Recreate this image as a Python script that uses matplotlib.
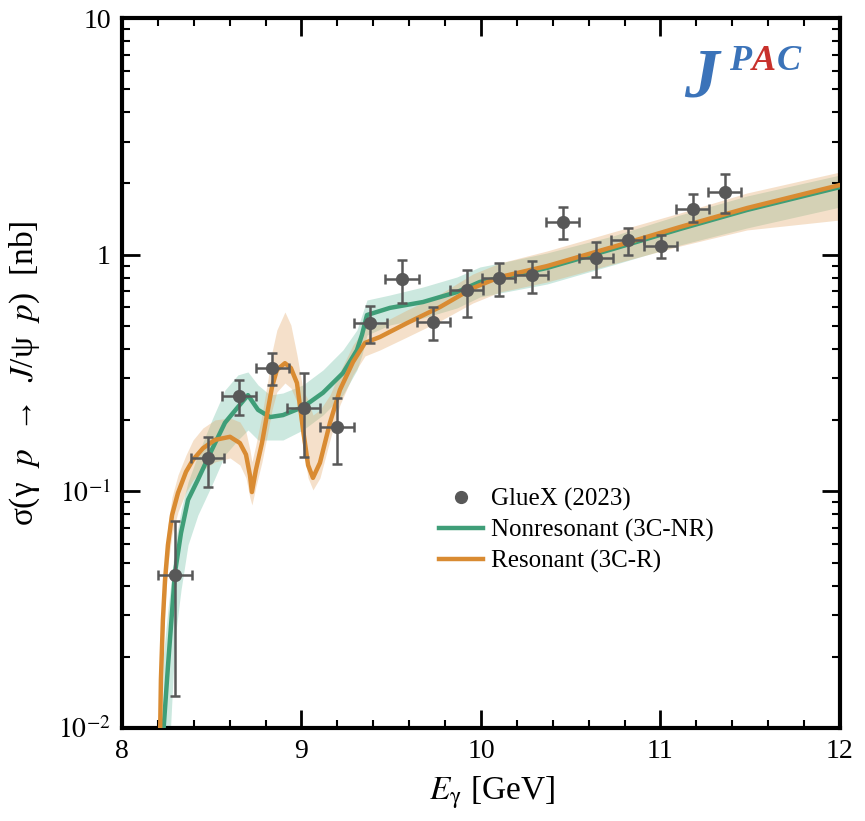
import numpy as np
import matplotlib
matplotlib.use('Agg')
import matplotlib.pyplot as plt
from matplotlib.lines import Line2D

plt.rcParams['font.family'] = ['Liberation Serif', 'DejaVu Serif']
plt.rcParams['mathtext.fontset'] = 'stix'

# GlueX (2023) data
e_data = [8.295, 8.479, 8.652, 8.836, 9.014, 9.198, 9.382, 9.560, 9.733,
          9.922, 10.100, 10.284, 10.457, 10.641, 10.819, 11.003, 11.181, 11.359]
sig_data = [0.0443, 0.138, 0.253, 0.332, 0.225, 0.187, 0.514, 0.789, 0.520,
            0.710, 0.798, 0.820, 1.375, 0.968, 1.154, 1.089, 1.56, 1.84]
sig_hi = [0.0752, 0.170, 0.296, 0.385, 0.316, 0.248, 0.607, 0.95, 0.601,
          0.861, 0.922, 0.94, 1.59, 1.13, 1.30, 1.21, 1.80, 2.19]
sig_lo = [0.0137, 0.104, 0.210, 0.282, 0.140, 0.131, 0.424, 0.625, 0.437,
          0.546, 0.670, 0.689, 1.16, 0.805, 0.997, 0.968, 1.375, 1.50]
e_err = [0.095, 0.092, 0.092, 0.092, 0.092, 0.092, 0.092, 0.095, 0.092,
         0.092, 0.092, 0.092, 0.092, 0.092, 0.092, 0.092, 0.092, 0.092]

# Nonresonant (3C-NR) curve and band
e_nr = [8.228, 8.256, 8.284, 8.295, 8.329, 8.368, 8.423, 8.501, 8.574, 8.646,
        8.702, 8.758, 8.825, 8.897, 9.008, 9.120, 9.231, 9.309, 9.337, 9.365,
        9.493, 9.677, 9.866, 9.994, 10.106, 10.368, 10.735, 11.109, 11.482, 12.0]
sig_nr = [0.0090, 0.0181, 0.0348, 0.0452, 0.0667, 0.0920, 0.112, 0.150, 0.195, 0.227,
          0.255, 0.221, 0.206, 0.210, 0.227, 0.261, 0.316, 0.395, 0.458, 0.556,
          0.596, 0.631, 0.695, 0.767, 0.797, 0.879, 1.057, 1.284, 1.545, 1.93]
nr_lo = [0.005, 0.006, 0.0160, 0.0236, 0.0383, 0.0594, 0.0794, 0.1064, 0.1426, 0.1648,
         0.1817, 0.1648, 0.1648, 0.1648, 0.1817, 0.2102, 0.2554, 0.3258, 0.3769, 0.4577,
         0.5047, 0.5402, 0.5954, 0.6627, 0.6890, 0.7518, 0.9048, 1.099, 1.297, 1.590]
nr_hi = [0.0194, 0.0316, 0.0489, 0.0594, 0.0834, 0.1096, 0.1426, 0.2004, 0.268, 0.3105,
         0.3195, 0.2815, 0.2554, 0.2604, 0.2815, 0.3258, 0.3957, 0.4807, 0.5561, 0.6434,
         0.6757, 0.7303, 0.8049, 0.8872, 0.9224, 1.017, 1.200, 1.472, 1.770, 2.171]

# Resonant (3C-R) curve and band
e_r = [8.212, 8.217, 8.228, 8.240, 8.256, 8.279, 8.312, 8.357, 8.396, 8.451,
       8.518, 8.602, 8.657, 8.691, 8.713, 8.724, 8.746, 8.780, 8.813, 8.836,
       8.863, 8.908, 8.941, 8.975, 9.009, 9.037, 9.064, 9.103, 9.159, 9.214,
       9.287, 9.354, 9.437, 9.588, 9.772, 9.955, 10.106, 10.368, 10.735, 11.109,
       11.482, 12.0]
sig_r = [0.0090, 0.0160, 0.0286, 0.0423, 0.0593, 0.0794, 0.0984, 0.121, 0.136, 0.152,
         0.165, 0.170, 0.160, 0.143, 0.117, 0.0993, 0.123, 0.160, 0.221, 0.276,
         0.326, 0.348, 0.332, 0.287, 0.182, 0.129, 0.114, 0.132, 0.195, 0.268,
         0.352, 0.424, 0.449, 0.514, 0.601, 0.723, 0.805, 0.895, 1.078, 1.309,
         1.574, 1.97]
r_lo = [0.005, 0.0108, 0.0214, 0.0331, 0.0489, 0.0655, 0.0818, 0.0994, 0.1117, 0.1232,
        0.1331, 0.1384, 0.1292, 0.1139, 0.0938, 0.0876, 0.1044, 0.1331, 0.1781, 0.2208,
        0.263, 0.287, 0.2734, 0.2386, 0.1526, 0.1139, 0.1014, 0.1139, 0.1648, 0.2317,
        0.3105, 0.3733, 0.3957, 0.4489, 0.5247, 0.6250, 0.6957, 0.7667, 0.9135, 1.088,
        1.272, 1.402]
r_hi = [0.0131, 0.0214, 0.0365, 0.0513, 0.0721, 0.0947, 0.1173, 0.1426, 0.1648, 0.1853,
        0.2004, 0.2042, 0.1964, 0.1781, 0.1496, 0.1331, 0.157, 0.2102, 0.2955, 0.388,
        0.4807, 0.5727, 0.5047, 0.3769, 0.268, 0.2432, 0.2102, 0.2208, 0.2554, 0.3195,
        0.4153, 0.4902, 0.5096, 0.5840, 0.6823, 0.8288, 0.9224, 1.037, 1.247, 1.501,
        1.823, 2.236]

green = "#3f9e78"
orange = "#d98b32"
gray = "#585858"

fig = plt.figure(figsize=(8.65, 8.21), dpi=100)
ax = fig.add_axes([0.141, 0.1133, 0.830, 0.8647])

ax.fill_between(e_nr, nr_lo, nr_hi, color="#56b596", alpha=0.3, lw=0)
ax.fill_between(e_r, r_lo, r_hi, color="#e3a868", alpha=0.35, lw=0)
ax.plot(e_nr, sig_nr, color=green, lw=3.2, solid_capstyle='round', zorder=3)
ax.plot(e_r, sig_r, color=orange, lw=3.2, solid_capstyle='round', zorder=4)

yerr = [np.array(sig_data) - np.array(sig_lo), np.array(sig_hi) - np.array(sig_data)]
ax.errorbar(e_data, sig_data, xerr=e_err, yerr=yerr, fmt='o', color=gray,
            ms=8.5, elinewidth=1.8, capsize=3.5, capthick=1.8, zorder=5)

ax.set_yscale('log')
ax.set_xlim(8, 12)
ax.set_ylim(0.01, 10)
ax.set_xticks([8, 9, 10, 11, 12])
ax.set_xticks(np.arange(8, 12.01, 0.2), minor=True)
ax.set_yticks([0.01, 0.1, 1, 10])
ax.set_yticklabels([r"$10^{-2}$", r"$10^{-1}$", "1", "10"])
ax.tick_params(which='both', direction='in', top=True, right=True, labelsize=20, pad=8)
ax.tick_params(which='major', length=13, width=2)
ax.tick_params(which='minor', length=6, width=1.5)
for s in ax.spines.values():
    s.set_linewidth(3)

ax.set_xlabel(r"$E_{\mathrm{\gamma}}$ [GeV]", fontsize=24)
ax.xaxis.set_label_coords(0.515, -0.065)
ax.set_ylabel(r"σ(γ  $p$  →  $J$/ψ  $p$)  [nb]", fontsize=24)
ax.yaxis.set_label_coords(-0.112, 0.5)

handles = [
    Line2D([], [], marker='o', ls='none', color=gray, ms=8.5),
    Line2D([], [], color=green, lw=3.2),
    Line2D([], [], color=orange, lw=3.2),
]
labels = ["GlueX (2023)", "Nonresonant (3C-NR)", "Resonant (3C-R)"]
ax.legend(handles, labels, loc='upper left', bbox_to_anchor=(0.41, 0.37), frameon=False,
          fontsize=18, handlelength=1.75, handletextpad=0.35, labelspacing=0.32)

# JPAC logo
ax.text(0.783, 0.89, "J", transform=ax.transAxes, fontsize=50, color="#3b73b9",
        fontweight='bold', style='italic', va='baseline')
ax.text(0.845, 0.927, "P", transform=ax.transAxes, fontsize=26, color="#3b73b9",
        fontweight='bold', style='italic', va='baseline')
ax.text(0.877, 0.927, "A", transform=ax.transAxes, fontsize=26, color="#c8312c",
        fontweight='bold', style='italic', va='baseline')
ax.text(0.912, 0.927, "C", transform=ax.transAxes, fontsize=26, color="#3b73b9",
        fontweight='bold', style='italic', va='baseline')

fig.savefig("out.png", dpi=100, facecolor="white")
